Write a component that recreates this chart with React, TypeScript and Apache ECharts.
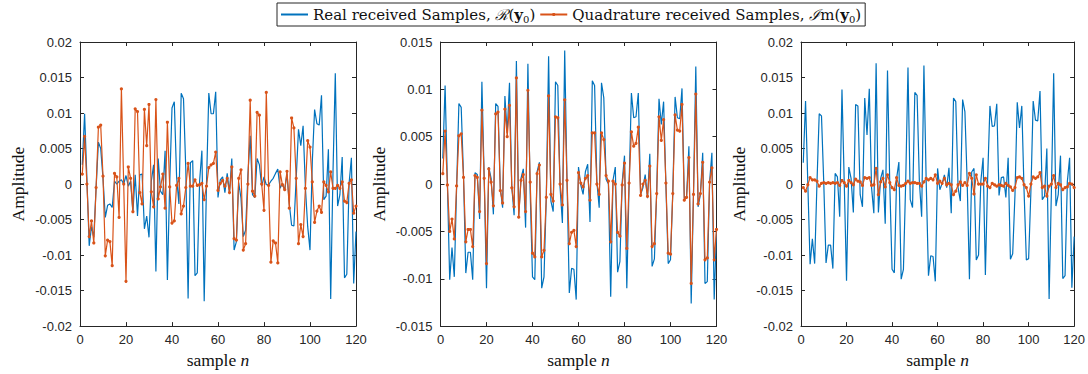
import { useEffect, useRef } from "react";
import * as echarts from "echarts";

const sampleIndex: number[] = Array.from({ length: 120 }, (_, i) => i + 1);

const realP1 = [
  0.0027, 0.0099, 0.0008, -0.0087, -0.006, -0.0075, -0.0005, 0.0059, 0.005, 0.0008,
  -0.0047, -0.003, -0.0028, -0.0033, 0.0004, 0, 0.0004, 0.0006, 0, 0.0012,
  -0.0003, 0.0004, -0.004, 0.0013, -0.0045, 0.0013, 0.0014, -0.0063, -0.0045, -0.0075,
  0.0004, 0.0027, -0.0123, 0.0036, -0.001, -0.0015, 0.0047, -0.0135, 0, 0.0107,
  0.0116, 0.001, -0.0028, 0.0128, 0.012, 0.002, -0.0161, 0.003, 0.0033, -0.0129,
  -0.0125, 0.0004, 0.0047, -0.0165, 0, 0.0128, 0.0099, 0.0099, 0.013, -0.0019,
  0.0006, 0.001, -0.0012, 0.0015, -0.0012, 0.0036, -0.0093, -0.0081, 0.0002, -0.002,
  -0.0074, -0.0065, 0.0013, 0.0068, -0.0015, -0.0019, 0.0036, 0.0027, -0.0003, 0.001,
  -0.0001, -0.0001, 0.0004, 0.0008, 0.0015, 0.0021, -0.0006, 0.0001, -0.0009, 0.0015,
  -0.0028, -0.0058, -0.0059, 0.0008, 0.0077, 0.0054, 0.0082, -0.0005, -0.006, -0.0093,
  0.0031, 0.0105, 0.0085, 0.0083, 0.0125, -0.0022, -0.0017, 0.0049, -0.0162, 0.0017,
  0.0156, -0.0031, -0.0015, 0.0038, -0.0132, -0.0127, 0.0001, 0.0037, -0.014, -0.0067,
];

const quadP1 = [
  0.0014, 0.0067, 0, -0.0074, -0.0052, -0.0083, -0.0005, 0.008, 0.0083, 0.0011,
  -0.0101, -0.0079, -0.0081, -0.0115, 0.0015, 0.001, -0.0047, 0.0134, 0, -0.0137,
  0.0024, 0.0008, -0.0039, 0.0106, 0.0102, -0.0012, -0.0028, 0.0105, 0.0054, 0.0112,
  -0.0011, -0.0032, 0.0119, -0.0021, -0.0004, 0.0014, -0.0034, 0.0087, -0.0004, -0.0055,
  -0.0052, -0.0002, 0.0008, -0.0042, -0.0031, -0.0005, 0.0029, -0.0003, -0.0003, 0.0006,
  -0.0002, -0.0001, 0.0001, -0.0022, -0.0003, 0.0023, 0.0027, 0.0029, 0.0045, -0.0009,
  0.0001, 0.0005, -0.0003, 0.0008, -0.0012, 0.0024, -0.0077, -0.0079, 0.0008, 0.002,
  -0.0093, -0.0084, 0, 0.0118, -0.001, -0.0017, 0.0101, 0.0097, 0, -0.0037,
  0.0129, -0.0002, -0.011, -0.008, -0.0083, -0.0111, 0.0017, -0.0001, -0.0008, 0.0018,
  -0.0034, 0.0093, 0.0079, 0.0008, -0.0084, -0.0057, -0.0074, -0.0006, 0.0061, 0.0052,
  0.0003, -0.0054, -0.0038, -0.0031, -0.004, 0.0003, -0.0002, -0.0011, 0.0017, -0.0006,
  -0.0006, -0.0002, -0.0006, 0.0003, -0.0024, -0.0026, 0.0001, 0.0006, -0.0041, -0.0031,
];

const realP2 = [
  0.0027, 0.0104, 0, -0.0101, -0.0067, -0.0098, -0.0004, 0.0085, 0.0081, 0.0009,
  -0.0094, -0.0072, -0.0072, -0.0101, 0.0012, 0.001, -0.0037, 0.0108, 0.0006, -0.011,
  0.0018, 0.0006, -0.0032, 0.0085, 0.0082, -0.0004, -0.0025, 0.0093, 0.0054, 0.0107,
  -0.0003, -0.0033, 0.013, -0.0034, 0.0006, 0.0016, -0.0046, 0.0127, -0.001, -0.0098,
  -0.0101, 0.0013, 0.0023, -0.011, -0.0098, -0.0014, 0.0135, -0.0018, -0.0029, 0.0108,
  0.0104, -0.0004, -0.0041, 0.0141, 0.0004, -0.0115, -0.0089, -0.009, -0.0122, 0.0018,
  -0.0001, -0.0011, 0.0013, 0.0021, -0.004, 0.0109, 0.0104, 0.0002, -0.0025, 0.0107,
  0.0091, 0.0005, 0, -0.0119, 0.0004, 0.0018, -0.0093, -0.0082, 0.0002, 0.003,
  -0.011, -0.0001, 0.0096, 0.007, 0.0071, 0.0096, -0.0011, -0.0004, 0.001, -0.0015,
  0.0032, -0.0087, -0.0079, -0.0008, 0.009, 0.0063, 0.0087, -0.0001, -0.0084, -0.008,
  -0.0008, 0.0092, 0.007, 0.0069, 0.0101, -0.0015, -0.0013, 0.004, -0.0126, -0.001,
  0.0124, -0.0024, -0.0011, 0.0033, -0.0105, -0.0103, 0.0002, 0.0033, -0.0122, -0.0049,
];

const quadP2 = [
  0.0011, 0.0056, -0.0001, -0.005, -0.0037, -0.0058, -0.0002, 0.0051, 0.0053, 0.0007,
  -0.0061, -0.0048, -0.0048, -0.0066, 0.0009, 0.0007, -0.0029, 0.0078, 0.0006, -0.0084,
  0.0016, 0.0002, -0.0023, 0.0074, 0.0076, -0.0007, -0.002, 0.0079, 0.005, 0.0083,
  -0.0004, -0.0024, 0.0112, -0.0035, 0.0004, 0.001, -0.0029, 0.0099, 0.0002, -0.0073,
  -0.0077, 0.0011, 0.002, -0.0077, -0.007, -0.0014, 0.0093, -0.0011, -0.0018, 0.0071,
  0.007, 0, -0.0022, 0.0089, 0.0004, -0.0063, -0.0051, -0.0049, -0.0066, 0.0012,
  0.0001, -0.0003, 0.0006, 0.0009, -0.0017, 0.0054, 0.0054, 0, -0.0011, 0.0054,
  0.0047, 0.0009, 0.0003, -0.0061, 0.0003, 0, -0.0051, -0.0055, -0.0001, 0.0022,
  -0.0068, 0.0001, 0.0055, 0.004, 0.0043, 0.006, -0.0012, 0, 0.0004, -0.0013,
  0.0019, -0.0066, -0.0063, -0.001, 0.0071, 0.0046, 0.0068, 0.0001, -0.0073, -0.0074,
  -0.001, 0.0073, 0.0057, 0.0056, 0.0084, -0.0017, -0.0014, 0.0028, -0.0105, -0.0011,
  0.0095, -0.0021, -0.001, 0.0023, -0.008, -0.0078, 0.0002, 0.0017, -0.008, -0.0048,
];

const realP3 = [
  0.003, 0.0117, 0, -0.0113, -0.0077, -0.0112, 0, 0.0099, 0.0096, 0.0002,
  -0.0111, -0.0086, -0.0086, -0.0119, 0.0015, 0.001, -0.0046, 0.0133, 0.0002, -0.0136,
  0.0024, 0.0008, -0.004, 0.0112, 0.011, -0.0015, -0.0032, 0.0121, 0.0069, 0.0134,
  -0.0005, -0.0041, 0.017, -0.004, 0.0008, 0.002, -0.0056, 0.016, 0, -0.012,
  -0.0125, 0.0008, 0.0031, -0.0134, -0.012, 0.0004, 0.0164, -0.0022, -0.0033, 0.0129,
  0.0125, 0.0004, -0.0046, 0.0167, 0.0004, -0.0129, -0.0101, -0.0102, -0.0137, 0.0022,
  -0.0008, 0.0001, 0.0013, -0.0005, 0.0023, -0.0041, 0.0121, 0.0116, -0.0005, -0.0024,
  0.0119, 0.0102, 0.0004, -0.0134, 0.0017, 0.0022, -0.0107, -0.01, 0.0004, 0.0037,
  -0.0128, 0.0008, 0.011, 0.0081, 0.0082, 0.0113, -0.0016, 0.0009, 0.001, -0.0019,
  0.0037, -0.0106, -0.0098, -0.0015, 0.0115, 0.0079, 0.011, -0.001, -0.0107, -0.0105,
  -0.001, 0.0117, 0.009, 0.0089, 0.0131, -0.0022, -0.0017, 0.005, -0.0162, -0.001,
  0.0156, -0.0031, -0.0015, 0.004, -0.0133, -0.0129, 0.0003, 0.0037, -0.0146, -0.0074,
];

const quadP3 = [
  -0.0005, -0.001, -0.0001, 0.0009, 0.0006, 0.0006, 0.0004, -0.0003, 0.0001, 0.0002,
  0.0001, 0.0002, 0.0001, 0.0002, 0.0001, 0.0002, -0.0002, 0.0005, 0.0002, -0.0003,
  0.0005, 0.0002, -0.0001, 0.0007, 0.0004, 0.0003, -0.0002, 0.0009, 0.0008, 0.0009,
  -0.0002, -0.0001, 0.0022, -0.0015, 0.0003, 0.0008, -0.0004, 0.0013, 0.0002, -0.0005,
  -0.0008, 0.0009, -0.0002, -0.0003, -0.0002, 0.0001, 0.0004, 0.0001, 0.0002, 0.0002,
  0.0001, 0.0001, -0.0003, 0.0003, 0.0008, 0.0006, 0.0008, 0.0006, 0.0013, 0.0001,
  0.0004, 0.0001, 0.0008, -0.0001, 0.0001, -0.0001, -0.0015, -0.001, -0.0001, 0.0003,
  -0.0002, 0.0002, -0.0002, 0.0015, 0.0008, -0.0014, 0.0013, 0, 0, 0,
  0.0008, -0.0003, -0.0005, 0.0001, -0.0001, -0.0003, -0.0001, -0.0002, -0.0003, 0.0001,
  -0.0002, -0.0004, -0.0009, -0.0005, 0.0009, 0.001, 0.0008, -0.0001, -0.0005, -0.0017,
  0, 0.001, 0.0008, 0.001, 0.0016, -0.0005, -0.0003, -0.0017, -0.0003, 0,
  0.0012, -0.0005, 0.0001, -0.0001, -0.0008, -0.0005, -0.0004, 0.0001, 0, -0.0005,
];

const realName = "Real received Samples, R(y0)";
const quadName = "Quadrature received Samples, Im(y0)";

const BLUE = "#0072BD";
const ORANGE = "#D95319";
const AXIS = "#262626";
const SANS = "Liberation Sans";
const SERIF = "Liberation Serif";
const LEGEND_SERIF = "DejaVu Serif";

const panels = [
  { left: 80, real: realP1, quad: quadP1, yMin: -0.02, yMax: 0.02 },
  { left: 440.5, real: realP2, quad: quadP2, yMin: -0.015, yMax: 0.015 },
  { left: 801, real: realP3, quad: quadP3, yMin: -0.02, yMax: 0.02 },
];

function fmtY(v: number) {
  if (Math.abs(v) < 1e-12) return "0";
  return String(parseFloat(v.toFixed(3)));
}

export default function App() {
  const ref = useRef<HTMLDivElement>(null);
  useEffect(() => {
    if (!ref.current) return;
    const chart = echarts.init(ref.current, undefined, { renderer: "svg" });
    const grids: any[] = [];
    const xAxes: any[] = [];
    const yAxes: any[] = [];
    const series: any[] = [];
    panels.forEach((p, i) => {
      grids.push({ left: p.left, top: 42, width: 276, height: 291, containLabel: false });
      const axisLine = { show: true, onZero: false, lineStyle: { color: AXIS, width: 1 } };
      const tick = { show: true, inside: true, length: 4, lineStyle: { color: AXIS, width: 1 } };
      xAxes.push({
        gridIndex: i, type: "value", min: 0, max: 120, interval: 20, position: "bottom",
        axisLine, axisTick: tick, splitLine: { show: false },
        axisLabel: { color: AXIS, fontFamily: SANS, fontSize: 13, margin: 7 },
        name: "{a|sample }{i|n}", nameLocation: "middle", nameGap: 11,
        nameTextStyle: {
          rich: {
            a: { fontFamily: SERIF, fontSize: 17.5, color: "#111" },
            i: { fontFamily: SERIF, fontSize: 17.5, fontStyle: "italic", color: "#111" },
          },
        },
      });
      xAxes.push({
        gridIndex: i, type: "value", min: 0, max: 120, interval: 20, position: "top",
        axisLine, axisTick: tick, axisLabel: { show: false }, splitLine: { show: false },
      });
      yAxes.push({
        gridIndex: i, type: "value", min: p.yMin, max: p.yMax, interval: 0.005, position: "left",
        axisLine, axisTick: tick, splitLine: { show: false },
        axisLabel: { color: AXIS, fontFamily: SANS, fontSize: 13, margin: 8, formatter: fmtY },
        name: "Amplitude", nameLocation: "middle", nameGap: 53, nameRotate: 90,
        nameTextStyle: { fontFamily: SERIF, fontSize: 17.5, color: "#111" },
      });
      yAxes.push({
        gridIndex: i, type: "value", min: p.yMin, max: p.yMax, interval: 0.005, position: "right",
        axisLine, axisTick: tick, axisLabel: { show: false }, splitLine: { show: false },
      });
      series.push({
        type: "line", name: realName, xAxisIndex: 2 * i, yAxisIndex: 2 * i,
        data: sampleIndex.map((n, k) => [n, p.real[k]]),
        symbol: "none", lineStyle: { color: BLUE, width: 1.2 }, itemStyle: { color: BLUE },
        z: 2,
      });
      series.push({
        type: "line", name: quadName, xAxisIndex: 2 * i, yAxisIndex: 2 * i,
        data: sampleIndex.map((n, k) => [n, p.quad[k]]),
        symbol: "circle", symbolSize: 3.2, showSymbol: true,
        lineStyle: { color: ORANGE, width: 1.2 }, itemStyle: { color: ORANGE },
        z: 3,
      });
    });

    chart.setOption({
      animation: false,
      backgroundColor: "#fff",
      grid: grids,
      xAxis: xAxes,
      yAxis: yAxes,
      series,
      legend: {
        left: 277, top: 3,
        data: [
          { name: realName, itemStyle: { opacity: 0 } },
          { name: quadName },
        ],
        backgroundColor: "#fff",
        borderColor: AXIS, borderWidth: 1,
        padding: [2, 4, 2, 3],
        itemGap: 4, itemWidth: 27, itemHeight: 4,
        formatter: (name: string) =>
          name === realName
            ? "{t|Real received Samples, }{c|ℛ}{t|(}{b|y}{s|0}{t|)}"
            : "{t|Quadrature received Samples, }{c|ℐ}{t|m(}{b|y}{s|0}{t|)}",
        textStyle: {
          rich: {
            t: { fontFamily: LEGEND_SERIF, fontSize: 15, color: "#111", lineHeight: 22 },
            c: { fontFamily: LEGEND_SERIF, fontSize: 15, fontStyle: "italic", color: "#111", lineHeight: 22 },
            b: { fontFamily: LEGEND_SERIF, fontSize: 15, fontWeight: "bold", color: "#111", lineHeight: 22 },
            s: { fontFamily: LEGEND_SERIF, fontSize: 10, color: "#111", padding: [9, 0, 0, 0], lineHeight: 22 },
          },
        },
      },
    });
    return () => chart.dispose();
  }, []);
  return (
    <div
      ref={ref}
      style={{ position: "absolute", left: 0, top: 0, width: 1088, height: 374 }}
    />
  );
}
